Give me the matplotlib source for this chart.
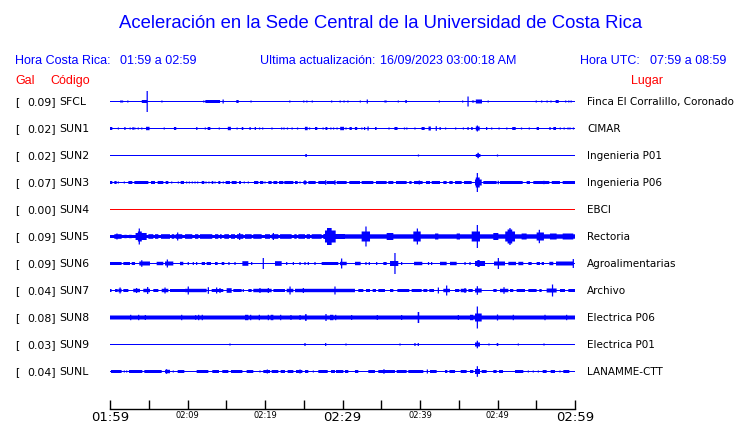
import matplotlib
matplotlib.use('Agg')
import matplotlib.pyplot as plt

# ---- data ----
STATIONS = ['SFCL', 'SUN1', 'SUN2', 'SUN3', 'SUN4', 'SUN5', 'SUN6', 'SUN7', 'SUN8', 'SUN9', 'SUNL']
PEAK_GAL = [0.09, 0.02, 0.02, 0.07, 0.00, 0.09, 0.09, 0.04, 0.08, 0.03, 0.04]
PLACES = ['Finca El Corralillo, Coronado', 'CIMAR', 'Ingenieria P01', 'Ingenieria P06', 'EBCI',
          'Rectoria', 'Agroalimentarias', 'Archivo', 'Electrica P06', 'Electrica P01', 'LANAMME-CTT']
# noise floor (half amplitude) for each trace
NOISE = [0.5, 0.5, 0.5, 0.5, 0.5, 1.5, 0.5, 0.5, 2.0, 0.5, 0.5]

# minutes after 01:59, tick labels every 10 min
TICK_MIN = [0, 10, 20, 30, 40, 50, 60]
TICK_LABELS = ['01:59', '02:09', '02:19', '02:29', '02:39', '02:49', '02:59']

# bursts: (start minute, end minute, half amplitude)
SFCL = [
    (1.3, 1.7, 1.0), (2.3, 2.3, 1.0), (4.1, 4.8, 1.5), (4.8, 4.8, 10.5), (6.7, 6.7, 1.0),
    (12.1, 12.1, 1.0), (12.3, 14.2, 1.5), (14.6, 14.6, 2.0), (16.3, 16.6, 1.5), (18.2, 18.2, 1.0),
    (23.2, 23.2, 1.0), (25.0, 25.0, 1.0), (25.4, 25.4, 1.0), (26.1, 26.1, 1.0),
    (28.6, 28.6, 1.0), (29.7, 29.7, 1.0), (30.2, 30.2, 1.0), (30.7, 30.7, 1.0), (32.3, 32.3, 1.0),
    (33.2, 33.2, 2.0), (35.4, 35.7, 1.0), (37.2, 37.2, 1.0), (38.1, 38.3, 1.5), (42.5, 42.5, 1.0),
    (45.5, 45.5, 1.0), (46.2, 46.2, 5.0), (46.7, 47.0, 1.0), (47.2, 48.0, 2.0), (48.8, 48.8, 1.0),
    (55.0, 55.0, 1.0), (55.7, 55.7, 1.0), (56.4, 56.4, 1.0), (56.9, 56.9, 1.0), (57.5, 57.9, 1.5),
    (58.8, 58.8, 1.0), (59.2, 59.2, 1.0), (59.5, 59.5, 1.0),
]
SUN1 = [
    (0.0, 0.3, 1.5), (1.08, 1.08, 1.0), (1.85, 2.0, 1.5), (2.6, 2.6, 1.0), (2.9, 3.05, 1.5),
    (3.2, 3.2, 1.0), (3.65, 3.65, 1.0), (4.1, 4.1, 1.0), (4.65, 5.1, 1.7), (7.0, 7.0, 1.0),
    (8.25, 8.55, 1.5), (11.2, 11.2, 1.5), (12.3, 12.3, 1.0), (12.6, 12.95, 1.5), (14.1, 14.1, 1.0),
    (15.2, 15.6, 1.7), (16.4, 16.4, 1.0), (17.0, 17.2, 1.5), (18.0, 18.15, 1.5), (18.7, 18.8, 1.5),
    (19.3, 19.3, 1.0), (19.7, 19.7, 1.0), (20.9, 20.9, 1.0), (22.15, 22.15, 1.0), (22.45, 22.45, 1.0),
    (22.9, 22.9, 1.0), (23.5, 23.5, 1.0), (24.2, 24.2, 1.0), (25.15, 25.5, 1.7), (25.75, 25.75, 1.0),
    (26.45, 26.75, 1.5), (27.5, 27.5, 1.0), (27.8, 28.05, 1.5), (28.5, 28.5, 1.0), (28.85, 28.85, 1.0),
    (29.3, 29.3, 1.0), (29.7, 30.2, 1.7), (30.45, 30.45, 1.0), (30.9, 31.2, 1.5), (31.6, 31.9, 1.5),
    (32.5, 32.5, 1.0), (32.8, 32.9, 1.5), (33.3, 33.3, 2.0), (34.2, 34.4, 1.5), (36.0, 36.0, 1.0),
    (36.7, 37.1, 1.5), (38.0, 38.0, 1.0), (38.3, 38.3, 1.0), (39.35, 39.35, 1.0), (40.2, 40.6, 1.5),
    (41.1, 41.4, 2.0), (42.1, 42.1, 2.3), (42.6, 42.6, 1.5), (43.3, 43.3, 1.0), (44.6, 44.6, 1.0),
    (45.6, 45.6, 1.0), (46.2, 46.2, 1.5), (46.6, 46.8, 1.5), (47.2, 47.7, 2.0), (47.4, 47.4, 3.0),
    (48.6, 48.6, 1.5), (49.25, 49.25, 1.0), (50.2, 50.2, 1.0), (51.2, 51.2, 1.0), (51.9, 52.35, 1.5),
    (53.1, 53.1, 1.0), (54.1, 54.1, 1.0), (55.05, 55.35, 1.5), (56.7, 56.85, 1.5), (57.2, 57.55, 1.5),
    (58.1, 58.1, 1.0), (58.6, 58.6, 1.0), (59.1, 59.1, 1.0), (59.35, 59.35, 1.0), (59.8, 59.8, 1.0),
]
SUN2 = [(25.2, 25.4, 1.5), (39.8, 39.8, 1.0), (47.2, 47.8, 1.5), (47.4, 47.6, 2.7), (50.0, 50.0, 1.0)]
SUN3 = [
    (0.0, 0.3, 1.5), (0.56, 0.86, 1.5), (1.08, 1.08, 1.0), (1.85, 1.85, 1.0), (2.37, 2.88, 1.5),
    (3.14, 4.95, 1.5), (5.29, 5.81, 1.5), (6.15, 6.88, 1.5), (7.18, 7.53, 1.5), (7.96, 7.96, 1.0),
    (8.82, 8.82, 1.0), (9.12, 9.55, 1.5), (9.89, 9.89, 1.0), (10.24, 10.24, 1.0), (10.62, 10.62, 1.0),
    (10.97, 10.97, 1.0), (11.31, 11.31, 1.0), (11.83, 12.17, 1.5), (12.39, 12.39, 1.0), (12.77, 12.77, 1.0),
    (13.12, 13.33, 1.5), (13.55, 13.55, 1.0), (13.98, 14.24, 1.5), (14.62, 14.62, 1.0), (14.92, 15.48, 1.5),
    (15.7, 16.34, 1.5), (16.65, 16.9, 1.5), (17.33, 17.33, 1.0), (17.85, 17.85, 1.0), (18.58, 19.14, 1.5),
    (19.35, 19.78, 1.5), (20.0, 20.0, 1.0), (20.43, 20.86, 1.5), (21.08, 21.59, 1.5), (21.81, 22.37, 1.5),
    (22.49, 23.66, 1.5), (23.87, 24.22, 1.5), (24.52, 24.52, 1.0), (24.95, 25.38, 1.5), (25.16, 25.16, 2.3),
    (25.59, 26.54, 1.5), (26.88, 27.74, 1.5), (27.83, 27.83, 2.3), (27.96, 29.03, 1.5), (29.03, 29.03, 2.3),
    (29.25, 30.54, 1.5), (30.88, 32.26, 1.5), (32.47, 33.98, 1.5), (34.32, 35.7, 1.5), (35.91, 36.56, 1.5),
    (36.9, 38.28, 1.5), (38.62, 38.92, 1.5), (39.23, 40.34, 1.5), (39.91, 39.91, 2.0), (40.77, 41.29, 1.5),
    (41.51, 42.58, 1.5), (43.01, 43.44, 1.5), (43.78, 44.22, 1.5), (44.52, 45.38, 1.5), (45.68, 46.67, 1.5),
    (47.1, 47.96, 3.0), (47.2, 47.7, 5.0), (47.4, 47.4, 9.5), (48.17, 49.89, 1.5), (50.1, 50.1, 1.7),
    (50.32, 53.25, 1.5), (53.76, 54.19, 1.5), (54.62, 56.69, 1.5), (55.99, 55.99, 1.7), (57.0, 58.06, 1.5),
    (58.41, 60.0, 1.5),
]
SUN4 = []
SUN5 = [
    (0.56, 1.5, 2.3), (0.9, 0.9, 3.0), (1.85, 2.15, 1.7), (2.45, 2.8, 1.7), (3.3, 4.73, 3.5),
    (3.6, 4.1, 5.0), (3.78, 3.78, 8.0), (4.95, 5.59, 2.3), (5.81, 6.24, 2.3), (6.58, 7.74, 2.3),
    (7.96, 8.3, 2.3), (8.47, 9.33, 2.3), (8.73, 8.73, 4.0), (9.68, 10.62, 2.3), (10.97, 11.4, 2.3),
    (11.61, 13.2, 2.3), (13.55, 13.98, 2.3), (14.19, 14.41, 2.3), (14.75, 15.35, 2.3), (15.61, 16.13, 2.3),
    (16.39, 17.2, 2.3), (16.73, 16.73, 3.5), (17.42, 18.28, 2.3), (18.49, 19.57, 2.3), (20.0, 20.65, 2.3),
    (20.86, 21.72, 2.3), (21.08, 21.08, 3.5), (21.94, 23.44, 2.3), (23.78, 24.09, 2.3), (24.3, 25.16, 2.3),
    (25.38, 25.81, 2.3), (26.02, 27.31, 2.3), (27.53, 30.32, 2.5), (27.74, 29.12, 6.0), (28.0, 28.6, 8.5),
    (29.68, 60.0, 2.2), (32.47, 33.55, 5.0), (33.03, 33.03, 10.0), (35.7, 36.56, 3.5), (39.14, 40.09, 5.0),
    (39.66, 39.66, 8.0), (41.94, 42.37, 3.0), (44.73, 45.16, 3.0), (46.67, 47.74, 5.0), (47.4, 47.4, 11.5),
    (49.46, 50.11, 3.5), (51.0, 52.26, 5.0), (51.3, 51.9, 7.0), (51.61, 51.61, 8.5), (53.11, 53.76, 3.0),
    (55.05, 55.99, 4.0), (55.4, 55.4, 6.7), (56.77, 57.63, 3.0), (58.41, 59.78, 3.0),
]
SUN6 = [
    (0.0, 1.5, 1.5), (1.72, 2.58, 1.5), (2.8, 3.23, 1.5), (3.78, 5.16, 2.0), (4.1, 4.1, 3.3),
    (6.02, 6.88, 1.7), (7.1, 8.17, 2.0), (7.4, 7.4, 4.0), (9.03, 9.46, 1.7), (10.1, 10.1, 1.5),
    (10.75, 10.75, 1.5), (11.18, 11.18, 1.5), (11.83, 12.26, 1.5), (12.47, 13.03, 1.5), (13.55, 13.89, 1.5),
    (14.41, 14.75, 1.5), (15.35, 15.35, 1.5), (16.13, 16.13, 1.5), (17.08, 17.85, 2.3), (18.28, 18.28, 1.5),
    (19.78, 19.78, 5.5), (21.29, 22.15, 2.3), (22.8, 22.8, 1.5), (23.66, 23.66, 1.5), (24.52, 24.52, 1.5),
    (25.16, 25.16, 1.5), (25.59, 25.59, 1.5), (26.45, 26.45, 1.5), (27.31, 29.46, 1.5), (29.68, 30.54, 1.7),
    (29.89, 29.89, 5.0), (31.61, 32.34, 1.7), (33.03, 33.03, 1.5), (33.46, 33.46, 1.5), (34.41, 34.41, 1.5),
    (35.27, 35.7, 1.5), (36.13, 37.2, 2.5), (36.77, 36.77, 10.5), (37.63, 37.63, 1.5), (39.23, 40.3, 1.7),
    (41.1, 41.1, 1.5), (41.5, 41.5, 1.5), (42.58, 43.44, 1.7), (43.87, 44.73, 1.7), (45.81, 45.81, 1.5),
    (46.45, 46.45, 1.5), (47.1, 48.39, 2.5), (47.4, 47.7, 3.5), (49.55, 50.97, 2.0), (50.11, 50.11, 5.5),
    (51.4, 52.39, 1.7), (52.69, 53.33, 1.7), (53.98, 54.41, 1.5), (55.05, 55.48, 1.5), (55.7, 56.0, 1.5),
    (56.69, 57.2, 1.7), (57.55, 59.78, 2.0), (59.78, 59.78, 4.5),
]
SUN7 = [
    (0.0, 0.2, 1.5), (0.65, 1.0, 1.5), (1.08, 1.5, 1.7), (1.3, 1.3, 3.0), (1.72, 2.37, 1.5),
    (3.0, 3.87, 1.7), (3.43, 3.43, 2.5), (4.3, 5.16, 1.7), (4.86, 4.86, 3.5), (5.59, 6.24, 1.5),
    (6.67, 7.53, 1.7), (7.1, 7.1, 3.0), (7.74, 9.68, 1.5), (9.68, 10.32, 1.7), (10.1, 10.1, 4.0),
    (10.32, 12.47, 1.7), (12.69, 12.69, 3.3), (13.12, 14.62, 1.5), (13.76, 13.76, 3.0), (14.19, 14.19, 2.5),
    (15.05, 15.7, 2.3), (15.91, 16.99, 1.5), (17.2, 17.2, 1.5), (17.85, 18.28, 1.5), (18.49, 20.86, 1.7),
    (19.35, 19.35, 2.5), (20.43, 20.43, 2.5), (21.08, 22.58, 1.5), (22.8, 23.66, 1.7), (23.23, 23.23, 4.0),
    (23.87, 31.61, 1.7), (24.95, 24.95, 2.5), (29.03, 29.03, 4.0), (32.04, 32.69, 1.5), (33.03, 33.55, 1.5),
    (33.89, 34.32, 1.5), (34.62, 35.48, 1.5), (36.13, 36.56, 1.5), (37.08, 38.62, 1.5), (38.92, 40.22, 1.5),
    (40.43, 40.95, 1.5), (41.2, 41.81, 1.5), (42.37, 42.37, 3.0), (43.01, 43.87, 1.7), (43.44, 43.44, 5.0),
    (44.52, 45.08, 1.5), (45.25, 46.02, 1.7), (45.81, 45.81, 2.5), (46.24, 46.8, 1.5), (47.1, 47.96, 2.0),
    (47.4, 47.4, 4.3), (49.46, 49.89, 1.5), (50.32, 51.4, 1.7), (50.84, 50.84, 3.3), (51.61, 52.04, 1.5),
    (52.47, 53.55, 1.5), (53.98, 55.05, 1.5), (55.4, 55.7, 1.5), (56.34, 57.63, 2.0), (57.1, 57.1, 6.0),
    (58.06, 58.71, 1.5), (59.14, 60.0, 1.5),
]
SUN8 = [
    (2.67, 2.67, 2.7), (3.7, 3.7, 2.7), (4.56, 4.56, 2.5), (9.25, 9.25, 2.7), (11.05, 11.05, 2.3),
    (11.44, 11.44, 2.7), (11.91, 11.91, 2.7), (17.42, 17.85, 2.7), (18.15, 18.15, 2.7), (19.27, 19.27, 2.7),
    (20.43, 20.43, 2.7), (20.73, 21.08, 2.7), (22.02, 22.02, 2.7), (23.35, 23.35, 2.5), (24.52, 24.52, 2.5),
    (25.16, 25.38, 3.3), (27.87, 27.87, 3.5), (28.39, 28.82, 2.7), (29.12, 29.12, 2.7), (31.18, 31.18, 2.5),
    (34.49, 34.49, 2.5), (37.63, 37.63, 2.5), (39.7, 39.9, 5.5), (44.95, 44.95, 2.5), (46.45, 46.88, 2.7),
    (47.1, 47.96, 4.0), (47.4, 47.4, 11.0), (50.0, 50.0, 3.0), (52.04, 52.04, 2.7), (56.13, 56.13, 2.7),
    (58.92, 58.92, 2.7),
]
SUN9 = [
    (15.48, 15.48, 1.0), (25.16, 25.16, 1.5), (27.83, 27.83, 1.5), (30.45, 30.45, 1.0), (37.42, 37.42, 1.0),
    (39.35, 39.35, 1.5), (39.78, 39.78, 1.5), (47.1, 47.74, 2.0), (47.4, 47.4, 3.8), (48.9, 48.9, 1.0),
    (49.9, 50.1, 1.5), (52.69, 52.69, 1.0), (56.0, 56.0, 1.0),
]
SUNL = [
    (0.13, 1.5, 1.5), (1.85, 1.85, 1.0), (2.15, 2.15, 1.0), (2.45, 4.17, 1.5), (4.43, 6.67, 1.5),
    (7.1, 7.74, 1.7), (7.3, 7.3, 2.3), (8.17, 8.17, 1.0), (8.73, 9.59, 1.5), (11.18, 12.69, 1.5),
    (13.2, 14.06, 1.5), (14.49, 15.27, 1.5), (15.61, 17.08, 1.5), (17.63, 18.49, 1.5), (19.35, 19.35, 1.0),
    (19.78, 20.65, 1.5), (20.3, 20.3, 2.0), (20.86, 21.72, 1.5), (22.02, 22.58, 1.5), (22.92, 23.66, 1.5),
    (24.0, 24.82, 1.5), (24.52, 24.52, 2.0), (25.16, 25.59, 1.5), (26.24, 26.24, 1.0), (26.88, 28.09, 1.5),
    (28.52, 29.03, 1.5), (29.16, 30.11, 1.5), (30.32, 30.75, 1.5), (31.61, 32.04, 1.5), (33.33, 34.19, 1.5),
    (34.62, 36.77, 1.5), (35.35, 35.35, 2.3), (36.99, 38.28, 1.5), (38.49, 40.43, 1.5), (40.95, 40.95, 2.0),
    (41.29, 42.15, 1.5), (43.23, 43.53, 1.5), (43.8, 44.52, 1.5), (45.25, 46.02, 1.5), (46.45, 46.88, 1.5),
    (47.1, 47.74, 2.5), (47.4, 47.4, 5.3), (47.96, 48.6, 1.5), (49.46, 49.89, 1.5), (50.2, 50.71, 1.5),
    (52.26, 53.33, 1.5), (53.98, 53.98, 1.0), (54.62, 54.62, 1.0), (55.27, 55.27, 1.0), (55.83, 56.34, 1.5),
    (56.86, 57.42, 1.5), (58.06, 58.06, 1.0), (58.49, 59.27, 1.5),
]
BURSTS = [SFCL, SUN1, SUN2, SUN3, SUN4, SUN5, SUN6, SUN7, SUN8, SUN9, SUNL]

BLUE = '#0000ff'
RED = '#ff0000'
W, H = 740, 423
ROW_GAP = 27      # vertical spacing between traces (same units as amplitude)
SPIKE_W = 0.16    # width of single-sample spikes, minutes


def fx(x):
    return x / W


def fy(y):
    return 1 - y / H


fig = plt.figure(figsize=(W / 100, H / 100), dpi=100)
fig.patch.set_facecolor('white')

# trace panel: x 110..575 px, y 88..409 px (shifted half a pixel so rows sit on pixel centres)
ax = fig.add_axes([fx(110), fy(409), (575 - 110) / W, (409 - 88) / H])
ax.set_xlim(0, 60)
ax.set_ylim(307.5, -13.5)

for i, bursts in enumerate(BURSTS):
    y0 = i * ROW_GAP
    color = RED if PEAK_GAL[i] == 0 else BLUE
    lefts, widths, bottoms, heights = [0], [60], [y0 - NOISE[i]], [2 * NOISE[i]]
    for t0, t1, amp in bursts:
        if t1 - t0 < SPIKE_W:
            mid = (t0 + t1) / 2
            t0, t1 = mid - SPIKE_W / 2, mid + SPIKE_W / 2
        lefts.append(t0)
        widths.append(t1 - t0)
        bottoms.append(y0 - amp)
        heights.append(2 * amp)
    ax.bar(lefts, heights, width=widths, bottom=bottoms, align='edge',
           color=color, linewidth=0, snap=False)

    # labels left / right of the trace
    ypx = 102 + y0
    fig.text(fx(15), fy(ypx), '[', fontsize=7.8, va='center', ha='left', color='black')
    fig.text(fx(56), fy(ypx), f'{PEAK_GAL[i]:.2f}]', fontsize=7.8, va='center', ha='right', color='black')
    fig.text(fx(59), fy(ypx), STATIONS[i], fontsize=7.8, va='center', ha='left', color='black')
    fig.text(fx(587), fy(ypx), PLACES[i], fontsize=7.5, va='center', ha='left', color='black')

for side in ['top', 'left', 'right']:
    ax.spines[side].set_visible(False)
ax.spines['bottom'].set_linewidth(1.0)
ax.set_yticks([])
ax.set_xticks(TICK_MIN)
ax.set_xticklabels(TICK_LABELS)
ax.set_xticks([m + 5 for m in TICK_MIN[:-1]], minor=True)
ax.tick_params(axis='x', which='both', direction='in', length=6.5, width=1.0, pad=1.5)
for lab in ax.get_xticklabels():
    lab.set_fontsize(9.5 if lab.get_text() in ('01:59', '02:29', '02:59') else 6)

# header texts
hdr = dict(family='Liberation Sans', color=BLUE, va='center', ha='left', fontsize=9)
fig.text(fx(381), fy(23), 'Aceleración en la Sede Central de la Universidad de Costa Rica',
         family='Liberation Sans', color=BLUE, fontsize=13.3, ha='center', va='center')
fig.text(fx(15), fy(61), 'Hora Costa Rica:', **hdr)
fig.text(fx(120), fy(61), '01:59 a 02:59', **hdr)
fig.text(fx(260), fy(61), 'Ultima actualización:', **hdr)
fig.text(fx(380), fy(61), '16/09/2023 03:00:18 AM', **hdr)
fig.text(fx(580), fy(61), 'Hora UTC:', **hdr)
fig.text(fx(650), fy(61), '07:59 a 08:59', **hdr)

red = dict(hdr, color=RED)
fig.text(fx(15), fy(81), 'Gal', **red)
fig.text(fx(50), fy(81), 'Código', **red)
fig.text(fx(631), fy(81), 'Lugar', **red)

fig.savefig('out.png', dpi=100, facecolor='white')
